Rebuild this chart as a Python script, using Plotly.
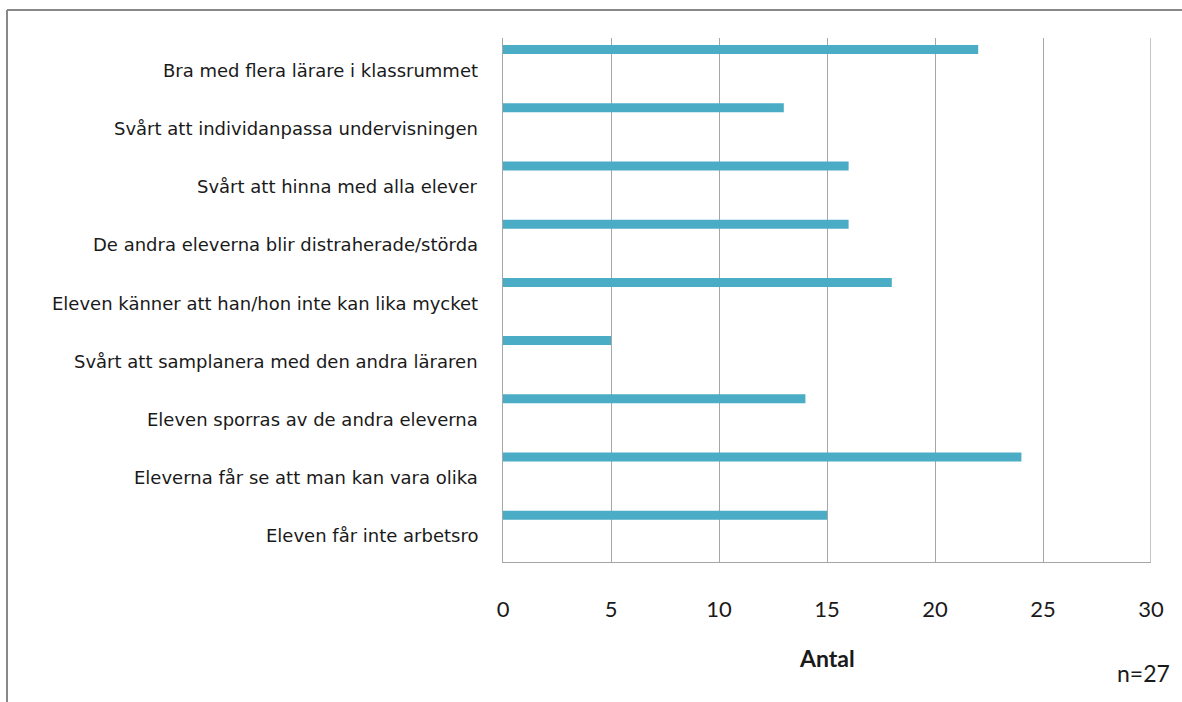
import plotly.graph_objects as go

# Survey answers (top to bottom) and number of respondents per statement
categories = [
    "Bra med flera lärare i klassrummet",
    "Svårt att individanpassa undervisningen",
    "Svårt att hinna med alla elever",
    "De andra eleverna blir distraherade/störda",
    "Eleven känner att han/hon inte kan lika mycket",
    "Svårt att samplanera med den andra läraren",
    "Eleven sporras av de andra eleverna",
    "Eleverna får se att man kan vara olika",
    "Eleven får inte arbetsro",
]
counts = [22, 13, 16, 16, 18, 5, 14, 24, 15]
x_ticks = [0, 5, 10, 15, 20, 25, 30]
x_title = "Antal"
note = "n=27"

W, H = 1182, 702
L, R, T, B = 503, 31, 38, 140
PW, PH = W - L - R, H - T - B

fig = go.Figure()
fig.add_trace(go.Bar(
    x=counts,
    y=categories,
    orientation="h",
    width=0.155,
    offset=-0.38,
    marker=dict(color="#4BACC6", line=dict(width=0)),
    hoverinfo="x+y",
))

# category labels, right-aligned a little left of the value axis
label_annotations = [
    dict(text=c, xref="paper", yref="y", x=-23 / PW, y=c,
         xanchor="right", yanchor="middle", yshift=-3, showarrow=False,
         font=dict(family="DejaVu Sans", size=18, color="#1a1a1a"))
    for c in categories
]

fig.update_layout(
    width=W, height=H,
    margin=dict(l=L, r=R, t=T, b=B, autoexpand=False),
    paper_bgcolor="white",
    plot_bgcolor="white",
    showlegend=False,
    xaxis=dict(
        range=[0, 30],
        tickvals=x_ticks,
        ticktext=[str(v) for v in x_ticks],
        showgrid=True,
        gridcolor="#a6a6a6",
        gridwidth=1.3,
        zeroline=False,
        showline=True,
        linecolor="#a6a6a6",
        linewidth=1.3,
        ticks="outside",
        ticklen=27,
        tickcolor="rgba(0,0,0,0)",
        tickfont=dict(family="Lato", size=22, color="#1a1a1a"),
        fixedrange=True,
    ),
    yaxis=dict(
        type="category",
        categoryorder="array",
        categoryarray=categories,
        autorange="reversed",
        showgrid=False,
        zeroline=False,
        showline=True,
        linecolor="#a6a6a6",
        linewidth=1.3,
        showticklabels=False,
        ticks="",
        fixedrange=True,
    ),
    annotations=label_annotations + [
        dict(text="<b>" + x_title + "</b>", xref="paper", yref="paper",
             x=0.5, y=-(658 - (T + PH)) / PH, xanchor="center", yanchor="middle",
             showarrow=False, font=dict(family="Lato", size=23, color="#1a1a1a")),
        dict(text=note, xref="paper", yref="paper",
             x=(1143 - L) / PW, y=-(673 - (T + PH)) / PH, xanchor="center", yanchor="middle",
             showarrow=False, font=dict(family="Lato", size=23, color="#1a1a1a")),
    ],
    shapes=[
        # right-hand border of the plot area
        dict(type="line", xref="x", yref="paper", x0=30, x1=30, y0=0, y1=1,
             line=dict(color="#a6a6a6", width=1.3)),
        # chart frame (top and left edges)
        dict(type="line", xref="paper", yref="paper",
             x0=-(L - 7) / PW, x1=(W - L) / PW,
             y0=1 + (T - 10) / PH, y1=1 + (T - 10) / PH,
             line=dict(color="#888888", width=2)),
        dict(type="line", xref="paper", yref="paper",
             x0=-(L - 7) / PW, x1=-(L - 7) / PW,
             y0=1 + (T - 10) / PH, y1=-B / PH,
             line=dict(color="#888888", width=2)),
    ],
)

fig.write_html("out.html")
